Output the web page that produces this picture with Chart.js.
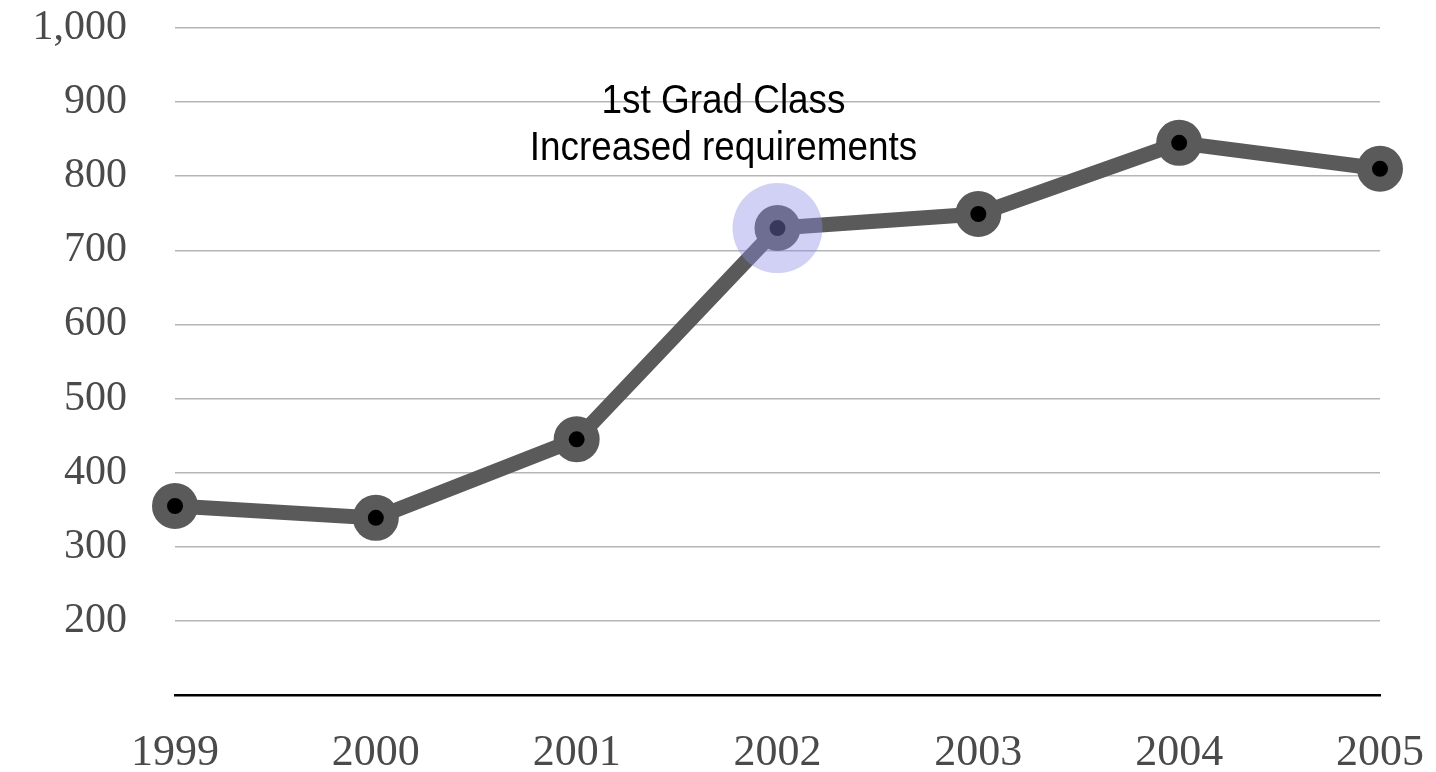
<!DOCTYPE html>
<html>
<head>
<meta charset="utf-8">
<script src="https://cdn.jsdelivr.net/npm/chart.js@4.4.1/dist/chart.umd.min.js"></script>
<style>
  html, body { margin: 0; padding: 0; background: #fff; }
  #wrap { width: 1436px; height: 772px; position: relative; }
</style>
</head>
<body>
<div id="wrap"><canvas id="grafico"></canvas></div>
<script>
const anios = ['1999', '2000', '2001', '2002', '2003', '2004', '2005'];
const valores = [355, 339, 445, 730, 749, 845, 810];
const destacado = [null, null, null, 730, null, null, null];
const notaLineas = ['1st Grad Class', 'Increased requirements'];
const notaIndice = 3;

// texto de la nota encima del punto destacado (letra estrecha)
const notaPlugin = {
  id: 'nota',
  afterDatasetsDraw(chart) {
    const ctx = chart.ctx;
    const x = chart.scales.x.getPixelForValue(notaIndice) - 54;
    const y = chart.scales.y.getPixelForValue(valores[notaIndice]);
    const escala = 0.9;
    ctx.save();
    ctx.fillStyle = '#000';
    ctx.font = '41px "Liberation Sans", Arial, sans-serif';
    ctx.textAlign = 'center';
    ctx.textBaseline = 'alphabetic';
    ctx.scale(escala, 1);
    ctx.fillText(notaLineas[0], x / escala, y - 115);
    ctx.fillText(notaLineas[1], x / escala, y - 68);
    ctx.restore();
  }
};

new Chart(document.getElementById('grafico'), {
  type: 'line',
  data: {
    labels: anios,
    datasets: [
      {
        data: destacado,
        order: 0,
        showLine: false,
        pointRadius: 45,
        pointBorderWidth: 0,
        pointBackgroundColor: 'rgba(140,140,230,0.4)'
      },
      {
        data: valores,
        order: 1,
        borderColor: '#5a5a5a',
        borderWidth: 15,
        tension: 0,
        pointRadius: 15.5,
        pointBorderWidth: 15,
        pointBorderColor: '#5a5a5a',
        pointBackgroundColor: '#000'
      }
    ]
  },
  options: {
    responsive: true,
    maintainAspectRatio: false,
    animation: false,
    layout: { autoPadding: false, padding: { top: 28, right: 56, left: 0, bottom: 0 } },
    plugins: { legend: { display: false }, tooltip: { enabled: false } },
    scales: {
      x: {
        offset: false,
        grid: { display: false, drawTicks: false },
        border: { display: true, color: '#000', width: 2.5 },
        ticks: {
          color: '#4a4a4a',
          padding: 32,
          maxRotation: 0,
          font: { family: '"Liberation Serif", "Times New Roman", serif', size: 44 }
        },
        afterFit(scale) {
          scale.height = 772 - 695;
          scale.paddingLeft = 0;
          scale.paddingRight = 0;
        }
      },
      y: {
        min: 100,
        max: 1000,
        grid: { color: '#b5b5b5', lineWidth: 1.5, drawTicks: false },
        border: { display: false },
        ticks: {
          stepSize: 100,
          color: '#4a4a4a',
          padding: 48,
          font: { family: '"Liberation Serif", "Times New Roman", serif', size: 42 },
          callback: v => v === 100 ? '' : v.toLocaleString('en-US')
        },
        afterFit(scale) {
          scale.width = 175;
          scale.paddingTop = 0;
          scale.paddingBottom = 0;
        }
      }
    }
  },
  plugins: [notaPlugin]
});
</script>
</body>
</html>
